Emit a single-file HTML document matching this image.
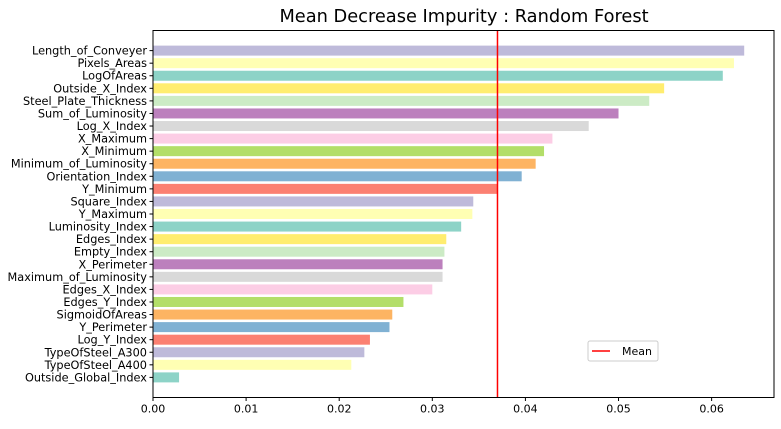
<!DOCTYPE html>
<html><head><meta charset="utf-8"><style>
body{margin:0;background:#fff;}
svg text{font-family:"DejaVu Sans","Liberation Sans",sans-serif;fill:#000;}
</style></head><body>
<svg id="chart" width="781" height="424" xmlns="http://www.w3.org/2000/svg">
<text x="464" y="22" font-size="17.8" text-anchor="middle">Mean Decrease Impurity : Random Forest</text>
<g id="bars"></g>
<g id="xaxis"></g>
<g id="yaxis"></g>
<rect x="153" y="30.5" width="621" height="367" fill="none" stroke="#000" stroke-width="1"/>
<g>
<rect x="588" y="341" width="70" height="20" rx="2" fill="#fff" stroke="#ccc"/>
<line x1="592" y1="351" x2="610" y2="351" stroke="#f00" stroke-width="1.6"/>
<text x="622" y="355" font-size="11">Mean</text>
</g>
</svg>
<script>
const categories=["Length_of_Conveyer","Pixels_Areas","LogOfAreas","Outside_X_Index","Steel_Plate_Thickness","Sum_of_Luminosity","Log_X_Index","X_Maximum","X_Minimum","Minimum_of_Luminosity","Orientation_Index","Y_Minimum","Square_Index","Y_Maximum","Luminosity_Index","Edges_Index","Empty_Index","X_Perimeter","Maximum_of_Luminosity","Edges_X_Index","Edges_Y_Index","SigmoidOfAreas","Y_Perimeter","Log_Y_Index","TypeOfSteel_A300","TypeOfSteel_A400","Outside_Global_Index"];
const values=[0.0635,0.0624,0.0612,0.0549,0.0533,0.0500,0.0468,0.0429,0.0420,0.0411,0.0396,0.0370,0.0344,0.0343,0.0331,0.0315,0.0313,0.0311,0.0311,0.0300,0.0269,0.0257,0.0254,0.0233,0.0227,0.0213,0.0028];
const meanValue=0.037;
const xTicks=[0,0.01,0.02,0.03,0.04,0.05,0.06];
const xTickLabels=["0.00","0.01","0.02","0.03","0.04","0.05","0.06"];
const palette=["#8dd3c7","#ffffb3","#bebada","#fb8072","#80b1d3","#fdb462","#b3de69","#fccde5","#d9d9d9","#bc80bd","#ccebc5","#ffed6f"];
const NS="http://www.w3.org/2000/svg";
const X0=153,X1=774,XMAX=0.0667;
const x=v=>X0+v/XMAX*(X1-X0);
const n=categories.length;
const Y0=30.5,Y1=397.5;
const y=i=>Y0+(i+1.6)/(n-1+3.2)*(Y1-Y0);
const bw=10;
function mk(t,a,p){const e=document.createElementNS(NS,t);for(const k in a)e.setAttribute(k,a[k]);p.appendChild(e);return e;}
const bars=document.getElementById('bars'),xa=document.getElementById('xaxis'),ya=document.getElementById('yaxis');
categories.forEach((c,i)=>{
  const fromBottom=n-1-i;
  const r=mk('rect',{x:X0,y:y(i)-bw/2,width:Math.max(0,x(values[i])-X0),height:bw,fill:palette[fromBottom%12]},bars);
  
  
  const tk=mk('line',{x1:X0-3.5,x2:X0,y1:y(i),y2:y(i),stroke:'#000'},ya);
  
  
  const t=mk('text',{x:X0-6,y:y(i)+4,'font-size':'11.3','text-anchor':'end'},ya);
  t.textContent=c;
  
  
});
const ml=mk('line',{x1:x(meanValue),x2:x(meanValue),y1:Y0,y2:Y1,stroke:'#f00','stroke-width':1.5},bars);


xTicks.forEach((v,i)=>{
  const tk=mk('line',{x1:x(v),x2:x(v),y1:Y1,y2:Y1+3.5,stroke:'#000'},xa);
  
  
  const t=mk('text',{x:x(v),y:Y1+15,'font-size':'11','text-anchor':'middle'},xa);
  t.textContent=xTickLabels[i];
  
  
});
</script>
</body></html>
